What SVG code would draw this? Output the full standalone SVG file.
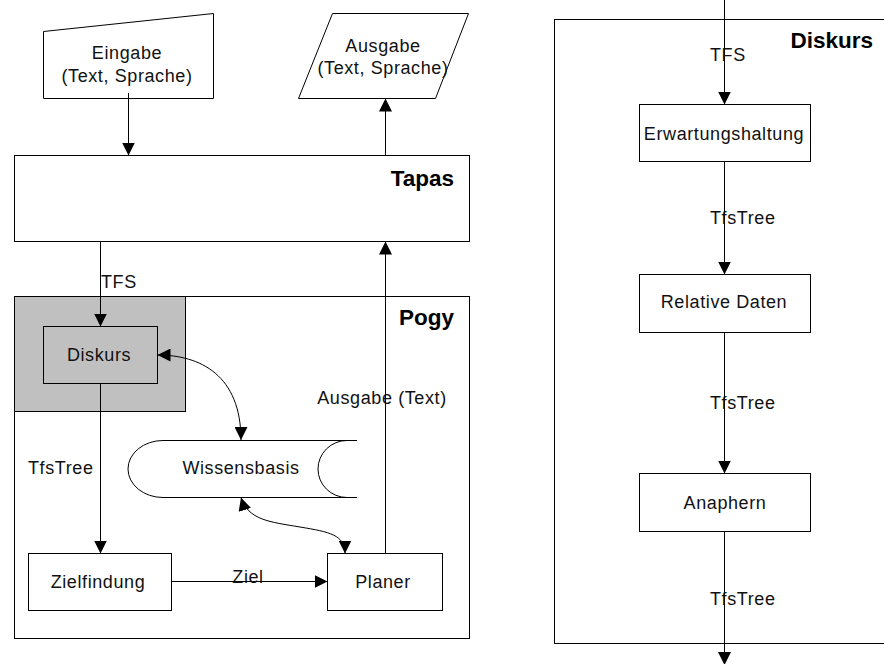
<svg xmlns="http://www.w3.org/2000/svg" width="884" height="664" viewBox="0 0 884 664">
<defs>
<marker id="ah" viewBox="0 0 12 12" refX="12" refY="6" markerWidth="13" markerHeight="13" markerUnits="userSpaceOnUse" orient="auto-start-reverse">
<path d="M0,0 L12,6 L0,12 z" fill="#000"/>
</marker>
<style>
.box{fill:#fff;stroke:#000;stroke-width:1}
.gray{fill:#c0c0c0;stroke:#000;stroke-width:1}
.t{font-family:"Liberation Sans",Arial,sans-serif;font-size:18px;fill:#111;letter-spacing:0.6px}
.b{font-family:"Liberation Sans",Arial,sans-serif;font-size:22.5px;font-weight:bold;fill:#000}
.c{text-anchor:middle}
.e{text-anchor:end}
.ln{fill:none;stroke:#000;stroke-width:1}
.ar{marker-end:url(#ah)}
.ar2{marker-start:url(#ah);marker-end:url(#ah)}
</style>
</defs>
<rect width="884" height="664" fill="#fff"/>
<g id="tapas">
<rect class="box" x="14.5" y="155.5" width="455" height="86"/>
<text class="b e" x="454" y="186">Tapas</text>
</g>
<g id="pogy">
<rect class="box" x="14.5" y="296.5" width="455" height="342"/>
<text class="b e" x="454" y="325">Pogy</text>
</g>
<g id="diskurs-area">
<rect class="gray" x="14.5" y="296.5" width="171" height="115" stroke-width="1.2"/>
</g>
<g id="eingabe">
<path class="box" d="M43.5,98.5 L43.5,31.5 L213.5,13.5 L213.5,98.5 Z"/>
<text class="t c" x="127" y="59">Eingabe</text>
<text class="t c" x="127" y="82">(Text, Sprache)</text>
</g>
<g id="ausgabe">
<path class="box" d="M332.5,13.5 L468.5,13.5 L435.5,98.5 L298.5,98.5 Z"/>
<text class="t c" x="383" y="52">Ausgabe</text>
<text class="t c" x="383" y="74">(Text, Sprache)</text>
</g>
<g id="diskurs">
<rect class="gray" x="43.5" y="326.5" width="114" height="57"/>
<text class="t c" x="99" y="361">Diskurs</text>
</g>
<g id="wissensbasis">
<path fill="#fff" stroke="#000" stroke-width="1" d="M357,440.5 L163,440.5 A35,28.5 0 0 0 163,497.5 L357,497.5"/>
<path class="ln" d="M347,440.5 A29,28.5 0 0 0 347,497.5"/>
<text class="t c" x="241" y="474">Wissensbasis</text>
</g>
<g id="zielfindung">
<rect class="box" x="28.5" y="553.5" width="143" height="57"/>
<text class="t c" x="98" y="588">Zielfindung</text>
</g>
<g id="planer">
<rect class="box" x="327.5" y="553.5" width="115" height="57"/>
<text class="t c" x="383" y="588">Planer</text>
</g>
<g id="diskurs-detail">
<rect class="box" x="554.5" y="19.5" width="340" height="624"/>
<text class="b e" x="873" y="48">Diskurs</text>
</g>
<g id="erwartungshaltung">
<rect class="box" x="639.5" y="104.5" width="171" height="57"/>
<text class="t c" x="724" y="140">Erwartungshaltung</text>
</g>
<g id="relative-daten">
<rect class="box" x="639.5" y="274.5" width="171" height="58"/>
<text class="t c" x="724" y="308">Relative Daten</text>
</g>
<g id="anaphern">
<rect class="box" x="639.5" y="473.5" width="171" height="58"/>
<text class="t c" x="725" y="509">Anaphern</text>
</g>
<g id="connectors">
<line class="ln ar" x1="128.5" y1="93" x2="128.5" y2="155.5"/>
<line class="ln ar" x1="385.5" y1="155.5" x2="385.5" y2="98.5"/>
<line class="ln ar" x1="100.5" y1="241.5" x2="100.5" y2="326.5"/>
<line class="ln ar" x1="385.5" y1="553.5" x2="385.5" y2="241.5"/>
<line class="ln ar" x1="100.5" y1="383.5" x2="100.5" y2="553.5"/>
<line class="ln ar" x1="171.5" y1="581.5" x2="327.5" y2="581.5"/>
<path class="ln ar2" d="M157.5,355 C200,355 241,375 241,440"/>
<path class="ln ar2" d="M241,497.5 C248,520 270,522 300,527 C330,532 345,535 345,553.5"/>
<line class="ln ar" x1="724.5" y1="0" x2="724.5" y2="104.5"/>
<line class="ln ar" x1="724.5" y1="161.5" x2="724.5" y2="274.5"/>
<line class="ln ar" x1="724.5" y1="332.5" x2="724.5" y2="473.5"/>
<line class="ln ar" x1="724.5" y1="531.5" x2="724.5" y2="665"/>
<text class="t" x="101" y="288">TFS</text>
<text class="t" x="28" y="474">TfsTree</text>
<text class="t c" x="248" y="583">Ziel</text>
<text class="t c" x="382" y="404">Ausgabe (Text)</text>
<text class="t" x="710" y="61">TFS</text>
<text class="t" x="710" y="224">TfsTree</text>
<text class="t" x="710" y="409">TfsTree</text>
<text class="t" x="710" y="605">TfsTree</text>
</g>
</svg>
